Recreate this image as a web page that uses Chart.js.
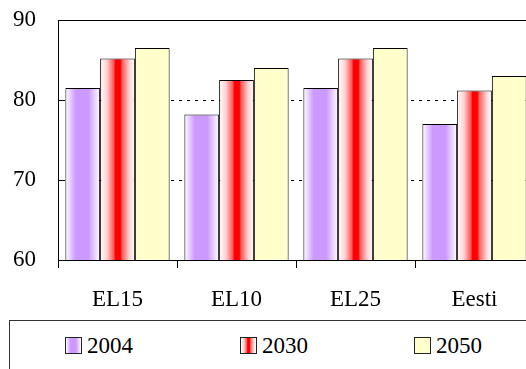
<html lang="et">
<head>
    <meta charset="UTF-8">
    <title>Tulpdiagramm</title>
    <script src="https://cdn.jsdelivr.net/npm/chart.js"></script>
    <style>
        body {
            margin: 0;
            width: 526px;
            height: 369px;
            overflow: hidden;
            position: relative;
            background: #fff;
        }
        #chart-box {
            position: absolute;
            left: 0;
            top: 0;
            width: 540px;
            height: 320px;
        }
        .legend-box {
            position: absolute;
            left: 9px;
            top: 320px;
            width: 600px;
            height: 80px;
            border-top: 1.5px solid #333;
            border-left: 1.5px solid #333;
        }
        .item {
            position: absolute;
            top: 16px;
            height: 18px;
            color: #000;
        }
        .swatch {
            position: absolute;
            left: 0;
            top: 0;
            width: 15px;
            height: 15px;
            border: 1px solid #222;
        }
        .lbl {
            position: absolute;
            left: 22px;
            top: 0;
            white-space: nowrap;
            font-family: "Liberation Serif";
            font-size: 23px;
            line-height: 18px;
        }
    </style>
</head>
<body>
    <div id="chart-box">
        <canvas id="barChart" width="540" height="320"></canvas>
    </div>
    <div class="legend-box">
        <div class="item" style="left:55px"><div class="swatch" id="sw0"></div><div class="lbl" id="lg0"></div></div>
        <div class="item" style="left:230px"><div class="swatch" id="sw1"></div><div class="lbl" id="lg1"></div></div>
        <div class="item" style="left:404px"><div class="swatch" id="sw2"></div><div class="lbl" id="lg2"></div></div>
    </div>

    <script>
        const categories = ['EL15', 'EL10', 'EL25', 'Eesti'];
        const years = ['2004', '2030', '2050'];
        const values2004 = [81.5, 78.2, 81.5, 77.0];
        const values2030 = [85.2, 82.5, 85.2, 81.2];
        const values2050 = [86.5, 84.0, 86.5, 83.0];
        const yTicks = [60, 70, 80, 90];

        const catPct = 0.876;
        const serif = '"Liberation Serif", "Times New Roman", serif';
        Chart.defaults.font.family = serif;
        Chart.defaults.font.size = 23;

        // värviüleminekud tulpadele (keskelt servade suunas)
        const stops = [
            [[0, '#ffffff'], [0.3, '#cc99ff'], [0.66, '#cc99ff'], [1, '#ffffff']],
            [[0, '#ffffff'], [0.2, '#ffd0d0'], [0.4, '#ff5050'], [0.44, '#ff0000'],
             [0.58, '#ff0000'], [0.64, '#ff6060'], [0.85, '#ffd8d8'], [1, '#ffffff']],
            [[0, '#ffffcc'], [1, '#ffffcc']]
        ];

        function barFill(ctx) {
            const chart = ctx.chart;
            const xs = chart.scales.x;
            const ds = ctx.datasetIndex;
            const fallback = stops[ds][1][1];
            if (!xs || ctx.dataIndex === undefined) return fallback;
            const catW = (xs.right - xs.left) / categories.length;
            const barW = catW * catPct / years.length;
            const left = xs.getPixelForValue(ctx.dataIndex) - catW * catPct / 2 + ds * barW;
            if (!isFinite(left) || !isFinite(barW) || barW <= 0) return fallback;
            const g = chart.ctx.createLinearGradient(left, 0, left + barW, 0);
            stops[ds].forEach(s => g.addColorStop(s[0], s[1]));
            return g;
        }

        // legendi ruudud
        stops.forEach((st, i) => {
            const css = st.map(s => s[1] + ' ' + (s[0] * 100) + '%').join(', ');
            document.getElementById('sw' + i).style.background = 'linear-gradient(to right, ' + css + ')';
            document.getElementById('lg' + i).textContent = years[i];
        });

        // lühikesed sisemised kriipsud y-teljel
        const innerTicks = {
            id: 'innerTicks',
            afterDraw(chart) {
                const c = chart.ctx;
                const ys = chart.scales.y;
                c.save();
                c.strokeStyle = '#000';
                c.lineWidth = 1;
                ys.ticks.forEach(t => {
                    const y = Math.round(ys.getPixelForValue(t.value)) + 0.5;
                    c.beginPath();
                    c.moveTo(chart.chartArea.left, y);
                    c.lineTo(chart.chartArea.left + 7, y);
                    c.stroke();
                });
                c.restore();
            }
        };

        const mkSet = (i, data) => ({
            label: years[i],
            data: data,
            backgroundColor: barFill,
            borderColor: '#000',
            borderWidth: 1,
            borderSkipped: false,
            barPercentage: 1,
            categoryPercentage: catPct
        });

        function noPad(scale) {
            scale.paddingTop = 0;
            scale.paddingBottom = 0;
            scale.paddingLeft = 0;
            scale.paddingRight = 0;
        }

        function draw() {
            new Chart(document.getElementById('barChart').getContext('2d'), {
                type: 'bar',
                data: {
                    labels: categories,
                    datasets: [mkSet(0, values2004), mkSet(1, values2030), mkSet(2, values2050)]
                },
                options: {
                    responsive: false,
                    animation: false,
                    devicePixelRatio: 1,
                    layout: { padding: { top: 20, right: 6, left: 0, bottom: 0 } },
                    plugins: {
                        legend: { display: false },
                        tooltip: { enabled: false }
                    },
                    scales: {
                        x: {
                            afterFit(scale) { scale.height = 60; noPad(scale); },
                            grid: {
                                offset: true,
                                drawOnChartArea: false,
                                drawTicks: true,
                                tickLength: 8,
                                color: '#000'
                            },
                            border: { display: true, color: '#000', width: 1 },
                            ticks: {
                                color: '#000',
                                padding: 18,
                                font: { family: serif, size: 23 }
                            }
                        },
                        y: {
                            min: 60,
                            max: 90,
                            afterFit(scale) { scale.width = 58; noPad(scale); },
                            afterBuildTicks(scale) { scale.ticks = yTicks.map(v => ({ value: v })); },
                            grid: {
                                drawTicks: false,
                                color: ctx => (ctx.tick && ctx.tick.value === 60) ? 'rgba(0,0,0,0)' : '#000',
                                lineWidth: 1
                            },
                            border: {
                                display: true,
                                color: '#000',
                                width: 1,
                                dash: ctx => (ctx.tick && (ctx.tick.value === 70 || ctx.tick.value === 80)) ? [3, 5] : []
                            },
                            ticks: {
                                color: '#000',
                                padding: 22,
                                font: { family: serif, size: 23 }
                            }
                        }
                    }
                },
                plugins: [innerTicks]
            });
        }

        // oota, kuni font on laetud, siis joonista
        document.fonts.load('23px "Liberation Serif"').then(draw, draw);
    </script>
</body>
</html>
